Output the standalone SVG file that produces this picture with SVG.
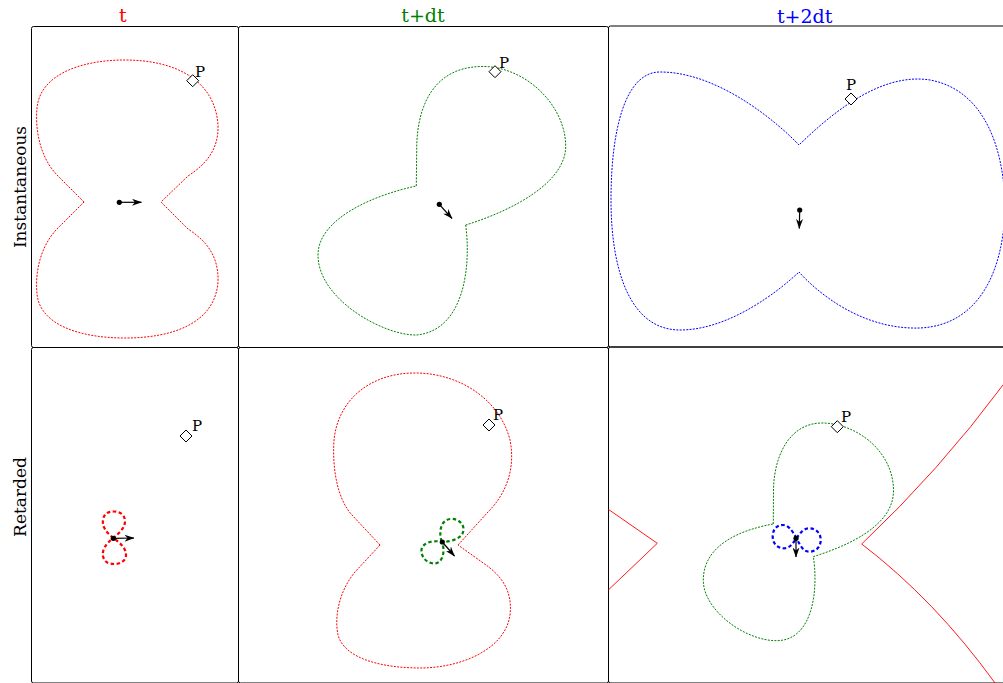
<svg xmlns="http://www.w3.org/2000/svg" width="1003" height="683" viewBox="0 0 1003 683">
<defs>
<style>
.panel{fill:none;stroke:#000;stroke-width:1}
.hdr{font-family:"DejaVu Serif","Liberation Serif",serif;font-size:19px;text-anchor:middle}
.row{font-family:"DejaVu Serif","Liberation Serif",serif;font-size:17px;text-anchor:middle}
.plab{font-family:"DejaVu Serif","Liberation Serif",serif;font-size:15px}
.dot{fill:none;stroke-width:1;stroke-dasharray:2 1.3}
.dash{fill:none;stroke-width:2.2;stroke-dasharray:3.5 2.5}
.solid{fill:none;stroke:#f00;stroke-width:0.9}
.arr{stroke:#000;stroke-width:1.2;marker-end:url(#ah)}
.chg{fill:#000}
.pm{fill:#fff;stroke:#000;stroke-width:1}
</style>
<marker id="ah" viewBox="0 0 10 7" refX="9.5" refY="3.5" markerWidth="10" markerHeight="7" markerUnits="userSpaceOnUse" orient="auto">
<path d="M0,0 L10,3.5 L0,7 L3,3.5 Z" fill="#000"/>
</marker>
</defs>
<rect width="1003" height="683" fill="#fff"/>

<g id="headers">
<text class="hdr" x="122.7" y="21.5" fill="#f00">t</text>
<text class="hdr" x="423" y="22" fill="#008000">t+dt</text>
<text class="hdr" x="804.7" y="22.5" fill="#0000ff">t+2dt</text>
<text class="row" transform="translate(26,187) rotate(-90)">Instantaneous</text>
<text class="row" transform="translate(26,497) rotate(-90)">Retarded</text>
</g>

<g id="panels">
<rect class="panel" x="31.5" y="26.5" width="207" height="321" rx="2"/>
<rect class="panel" x="238.5" y="26.5" width="370" height="321" rx="2"/>
<rect class="panel" x="608.5" y="26" width="410" height="321" rx="2"/>
<rect class="panel" x="31.5" y="347.5" width="207" height="335.5" rx="2"/>
<rect class="panel" x="238.5" y="347.5" width="370" height="335.5" rx="2"/>
<rect class="panel" x="608.5" y="347" width="410" height="336" rx="2"/>
</g>

<g id="inst-t">
<path class="dot" stroke="#f00" d="M84,202 L58,176 C40,158 35,130 37,108 C40,75 80,60 125,60 C175,60 215,80 218,125 C219,150 205,165 188,176 L161,202"/>
<path class="dot" stroke="#f00" d="M84,202 L56,230 C40,248 35,272 37,294 C40,325 80,338 125,338 C175,338 215,322 218,282 C219,255 205,240 188,229 L161,202"/>
<line class="arr" x1="119.3" y1="202.3" x2="141.5" y2="202.3"/>
<circle class="chg" cx="119.3" cy="202.3" r="2.6"/>
<path class="pm" d="M192.7,74.7 L198.7,80.7 L192.7,86.7 L186.7,80.7 Z"/>
<text class="plab" x="195" y="77">P</text>
</g>

<g id="inst-tdt">
<path class="dot" stroke="#008000" d="M416.3,186 L416.7,150 C416.5,115 428,67 482,66.5 C525,66 566,105 565.7,147 C565,180 520,208 465.7,225"/>
<path class="dot" stroke="#008000" d="M465.7,225 C471,265 465,330 416.7,335 C385,336 318,300 318,255 C318,220 370,196 416.3,186"/>
<line class="arr" x1="439.3" y1="204.3" x2="452" y2="218.5"/>
<circle class="chg" cx="439.3" cy="204.3" r="2.6"/>
<path class="pm" d="M495,65.7 L501,71.7 L495,77.7 L489,71.7 Z"/>
<text class="plab" x="499" y="68">P</text>
</g>

<g id="inst-t2dt">
<path class="dot" stroke="#0000ff" d="M799,145 C780,125 720,72 660,72 C625,72 611,130 611,200 C611,270 630,330 680,330 C730,330 780,290 799,272 C815,290 860,330 920,328 C980,325 1003,270 1005,210 C1005,150 985,90 930,80 C880,72 830,115 799,145"/>
<line class="arr" x1="799.7" y1="210" x2="799.3" y2="228.5"/>
<circle class="chg" cx="799.7" cy="210" r="2.6"/>
<path class="pm" d="M851,93 L857,99 L851,105 L845,99 Z"/>
<text class="plab" x="846" y="90">P</text>
</g>

<g id="ret-t">
<path class="dash" stroke="#f00" d="M113.5,538 C105,532 102,525 103,520 C104,513 109,511.5 114,511.5 C120,511.5 125,515 125,521 C125,528 120,532 113.5,538 C105,544 102,551 103,556 C104,562 109,564 114,564 C120,564 126,561 126,555 C126,548 120,543 113.5,538"/>
<line class="arr" x1="113.3" y1="538.3" x2="134" y2="538"/>
<circle class="chg" cx="113.3" cy="538.3" r="2.6"/>
<path class="pm" d="M186,430 L192,436 L186,442 L180,436 Z"/>
<text class="plab" x="192" y="431">P</text>
</g>

<g id="ret-tdt">
<path class="dot" stroke="#f00" d="M380,545 L352,515 C338,500 332,470 334,440 C338,400 370,373 415,373 C460,373 500,400 510,440 C516,470 505,495 488,512 L458,545"/>
<path class="dot" stroke="#f00" d="M380,545 L355,572 C340,590 334,615 338,635 C345,660 385,668 420,668 C460,668 505,650 510,615 C513,590 500,575 486,565 L458,545"/>
<path class="dash" stroke="#008000" d="M441.7,541.7 C438,530 442,520 450,519 C458,518 464,524 463.5,530 C463,538 452,542 441.7,541.7 C432,540 422,543 421.5,550 C421,558 428,564 435,563.5 C442,563 446,552 441.7,541.7"/>
<line class="arr" x1="442.3" y1="542" x2="454.5" y2="556"/>
<circle class="chg" cx="442.3" cy="542" r="2.6"/>
<path class="pm" d="M489,419 L495,425 L489,431 L483,425 Z"/>
<text class="plab" x="493" y="420">P</text>
</g>

<g id="ret-t2dt">
<path class="solid" d="M608.3,509.3 L657.3,543.3 L608.3,590"/>
<path class="solid" d="M1003,385 Q940,470 861.7,544 Q935,600 995,683"/>
<path class="dot" stroke="#008000" d="M773.3,524 L773.5,490 C774,455 790,423 822,423 C855,423 893,450 893.5,490 C894,525 850,545 813.3,556.7 C818,585 815,640 777,640.7 C745,641 703,610 703.3,580 C703.5,545 740,530 773.3,524"/>
<path class="dash" stroke="#0000ff" d="M796.5,538.3 C792,530 788,525 783,525 C776,525 772.7,530 772.7,536.5 C772.7,543 777,548.3 784,548.3 C790,548.3 793,543 796.5,538.3 C800,533 804,528.3 809,528.3 C816,528.3 820.7,533 820.7,540 C820.7,547 816,551.7 809,551.7 C803,551.7 800,545 796.5,538.3"/>
<line class="arr" x1="796" y1="538.3" x2="796" y2="557"/>
<circle class="chg" cx="796" cy="538.3" r="2.6"/>
<path class="pm" d="M837.3,420.7 L843.3,426.7 L837.3,432.7 L831.3,426.7 Z"/>
<text class="plab" x="841" y="421.7">P</text>
</g>
</svg>
